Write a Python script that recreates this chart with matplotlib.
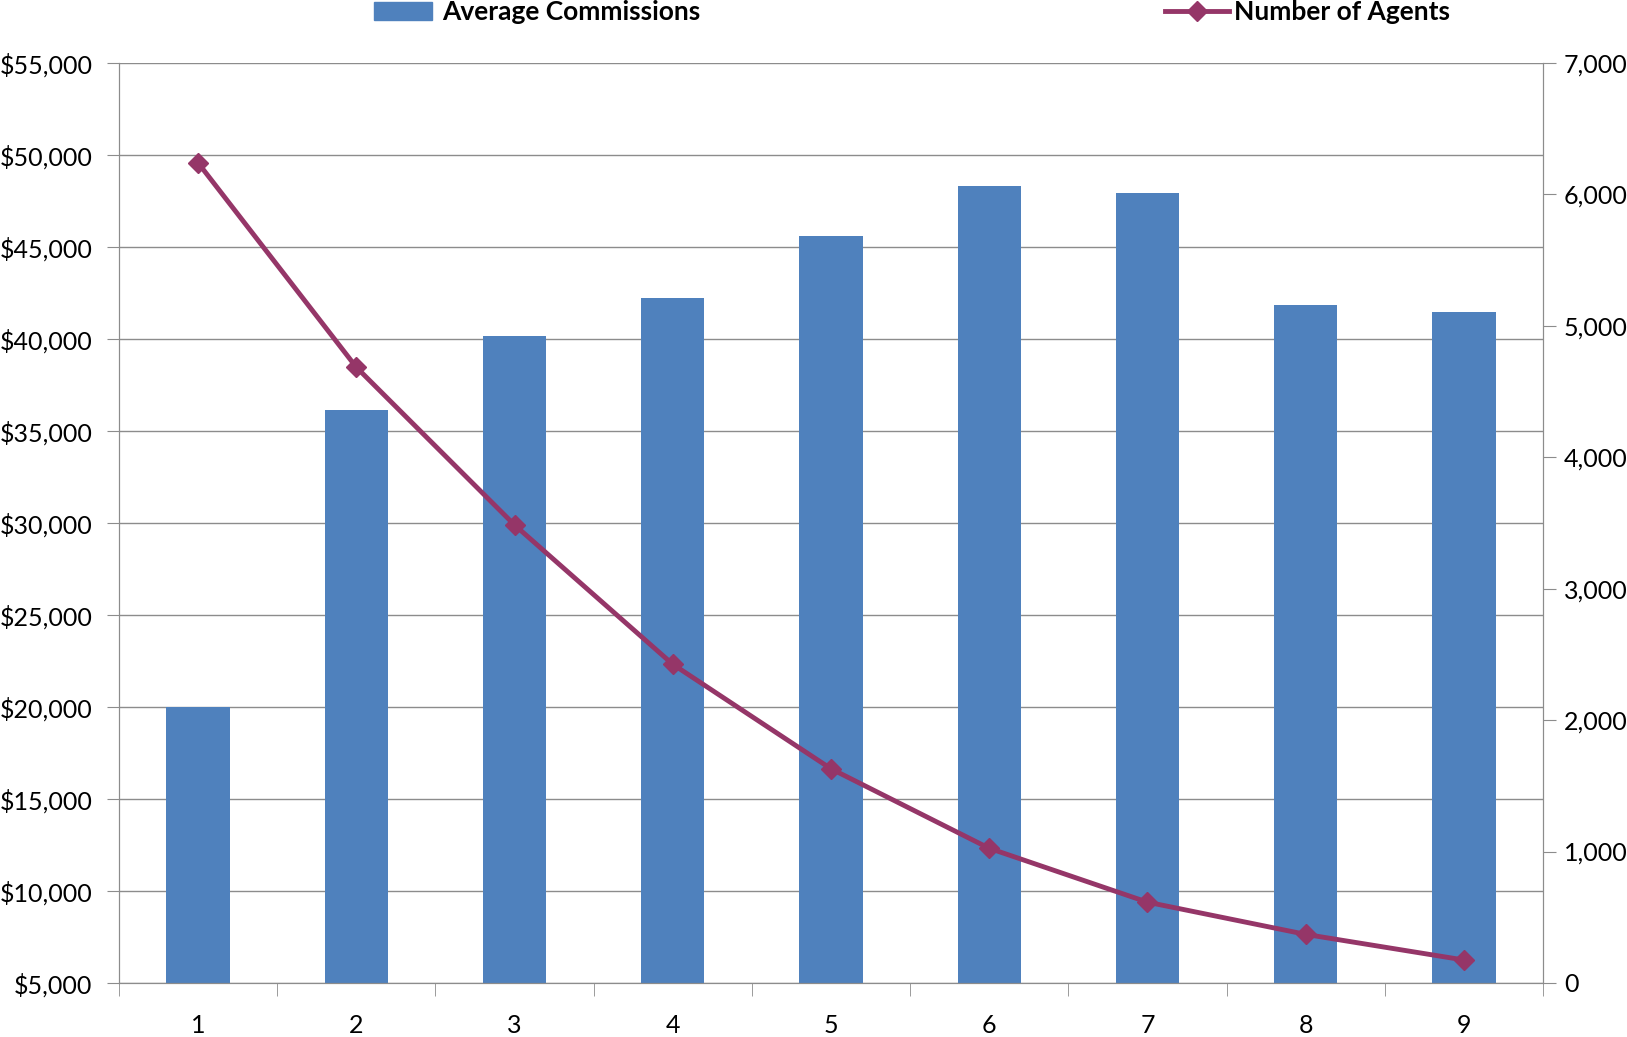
import numpy as np
import matplotlib.pyplot as plt
from matplotlib.ticker import FuncFormatter, FixedLocator
from matplotlib.lines import Line2D
from matplotlib.patches import Patch

plt.rcParams['font.family'] = ['Lato', 'DejaVu Sans']

categories = [1, 2, 3, 4, 5, 6, 7, 8, 9]
avg_commissions = [20000, 36150, 40150, 42250, 45600, 48300, 47950, 41850, 41450]
num_agents = [6240, 4685, 3485, 2425, 1630, 1025, 615, 370, 175]

bar_color = '#4F81BD'
line_color = '#953668'
grid_color = '#8C8C8C'

fig = plt.figure(figsize=(16.27, 10.37), dpi=100)
ax = fig.add_axes([119 / 1627, 1 - 983 / 1037, (1543 - 119) / 1627, (983 - 63) / 1037])
ax2 = ax.twinx()

x = np.arange(len(categories))
ax.bar(x, np.array(avg_commissions) - 5000, bottom=5000, width=0.4, color=bar_color, zorder=2)
ax2.plot(x, num_agents, color=line_color, lw=3.5, marker='D', ms=10, zorder=3)

ax.set_xlim(-0.5, len(categories) - 0.5)
ax.set_ylim(5000, 55000)
ax2.set_ylim(0, 7000)
ax.set_yticks(np.arange(5000, 55001, 5000))
ax2.set_yticks(np.arange(0, 7001, 1000))
ax.yaxis.set_major_formatter(FuncFormatter(lambda v, p: f"${v:,.0f}"))
ax2.yaxis.set_major_formatter(FuncFormatter(lambda v, p: f"{v:,.0f}"))

ax.set_xticks(x)
ax.set_xticklabels([str(c) for c in categories])
ax.xaxis.set_minor_locator(FixedLocator(np.arange(-0.5, len(categories), 1.0)))
ax.tick_params(axis='x', which='major', length=0, pad=22, labelsize=18)
ax.tick_params(axis='x', which='minor', length=9, color=grid_color, direction='out')
ax.tick_params(axis='y', length=9, color=grid_color, labelsize=18, pad=10)
ax2.tick_params(axis='y', length=9, color=grid_color, labelsize=18, pad=6)

ax.grid(axis='y', color=grid_color, lw=1, zorder=0)
ax.set_axisbelow(True)
for a in (ax, ax2):
    a.spines['top'].set_visible(False)
    for s in ('left', 'right', 'bottom'):
        a.spines[s].set_color(grid_color)

h1 = Patch(color=bar_color)
h2 = Line2D([], [], color=line_color, lw=3.5, marker='D', ms=10)
fig.legend([h1], ['Average Commissions'], loc='center left', bbox_to_anchor=(360 / 1568, 1 - 12 / 999),
           frameon=False, prop={'weight': 'bold', 'size': 19}, handlelength=2.2, handletextpad=0.4,
           borderaxespad=0, borderpad=0)
fig.legend([h2], ['Number of Agents'], loc='center left', bbox_to_anchor=(1123 / 1568, 1 - 12 / 999),
           frameon=False, prop={'weight': 'bold', 'size': 19}, handlelength=2.4, handletextpad=0.2,
           borderaxespad=0, borderpad=0)

fig.savefig('out.png', dpi=100)
